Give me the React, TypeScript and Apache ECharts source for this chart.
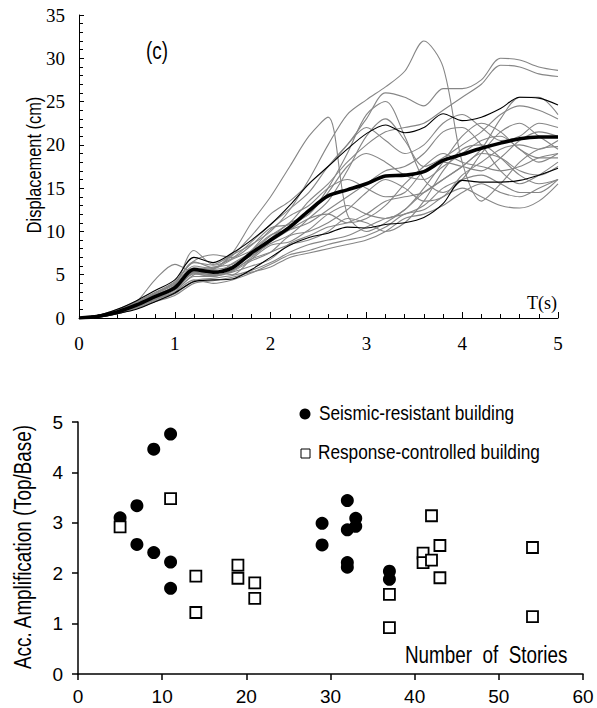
import React, { useEffect, useRef } from "react";
import * as echarts from "echarts";

// ---------- Panel (c): displacement time histories ----------
const T = [0, 0.2, 0.4, 0.6, 0.8, 1.0, 1.2, 1.4, 1.6, 1.8, 2.0, 2.2, 2.4, 2.6, 2.8, 3.0, 3.2, 3.4, 3.6, 3.8, 4.0, 4.2, 4.4, 4.6, 4.8, 5.0];

const g1 = [0, 0.2, 0.8, 1.6, 2.7, 3.8, 7.8, 6.2, 7.3, 8.5, 10.0, 12.5, 16.0, 20.0, 23.5, 25.2, 26.7, 28.5, 32.0, 29.0, 18.0, 13.5, 15.5, 18.0, 19.5, 19.8];
const g2 = [0, 0.2, 0.6, 1.4, 2.3, 3.2, 5.0, 5.6, 7.5, 11.0, 14.0, 17.5, 21.0, 23.2, 12.0, 10.0, 11.0, 12.5, 14.5, 16.0, 17.5, 19.0, 18.5, 17.0, 16.5, 17.5];
const g3 = [0, 0.3, 0.9, 1.8, 2.9, 4.0, 6.5, 5.8, 7.2, 9.5, 12.0, 13.5, 15.5, 17.5, 20.0, 23.0, 26.0, 25.5, 24.5, 26.5, 26.5, 27.5, 30.0, 29.8, 29.0, 28.6];
const g4 = [0, 0.2, 0.7, 1.5, 2.4, 3.4, 5.3, 5.9, 6.2, 7.6, 9.5, 11.0, 13.5, 15.5, 18.0, 20.0, 21.5, 22.0, 22.5, 24.0, 25.5, 27.0, 29.2, 29.0, 28.2, 27.9];
const g5 = [0, 0.2, 0.6, 1.3, 2.2, 3.3, 5.3, 5.0, 6.3, 7.6, 9.2, 11.0, 12.0, 15.0, 19.0, 23.5, 25.0, 21.0, 16.0, 14.5, 16.0, 19.0, 21.5, 22.5, 21.0, 19.5];
const g6 = [0, 0.2, 0.7, 1.6, 2.6, 3.5, 5.8, 5.6, 6.0, 7.2, 8.6, 9.6, 11.5, 13.5, 17.0, 21.0, 23.0, 20.5, 17.5, 18.5, 20.0, 21.5, 23.5, 24.5, 24.0, 23.0];
const g7 = [0, 0.2, 0.6, 1.3, 2.2, 3.0, 4.4, 4.0, 4.4, 5.2, 6.2, 7.3, 7.8, 8.5, 9.0, 9.5, 10.5, 12.0, 12.5, 14.0, 15.0, 14.0, 13.0, 12.7, 13.5, 15.5];
const g8 = [0, 0.3, 0.9, 1.9, 4.5, 6.2, 5.2, 4.8, 5.5, 6.8, 7.6, 8.5, 9.0, 10.0, 11.5, 11.0, 10.0, 11.0, 13.5, 17.0, 19.5, 20.0, 18.5, 16.5, 15.5, 16.0];
const g9 = [0, 0.2, 0.7, 1.5, 2.5, 3.6, 5.6, 5.4, 5.0, 6.8, 8.4, 8.8, 10.2, 12.0, 13.0, 12.0, 11.5, 12.5, 15.0, 18.0, 21.0, 22.5, 21.5, 19.5, 18.5, 18.5];
const g10 = [0, 0.2, 0.8, 1.7, 2.8, 3.9, 6.0, 5.7, 6.8, 7.8, 9.6, 10.2, 11.0, 12.5, 14.0, 15.5, 17.0, 17.5, 19.0, 21.5, 22.0, 20.0, 17.0, 15.5, 16.5, 18.0];
const g11 = [0, 0.2, 0.7, 1.5, 2.5, 3.5, 5.4, 5.2, 5.9, 7.8, 10.2, 11.8, 13.0, 15.0, 16.0, 15.0, 14.0, 14.5, 17.0, 18.0, 17.5, 17.0, 18.5, 20.5, 21.5, 21.0];
const g12 = [0, 0.1, 0.5, 1.2, 2.1, 3.0, 4.8, 4.8, 5.3, 6.0, 6.8, 8.6, 9.5, 10.5, 11.0, 12.0, 13.5, 14.0, 14.5, 16.0, 17.5, 19.5, 23.0, 25.5, 25.5, 23.5];
const g13 = [0, 0.1, 0.5, 1.1, 2.0, 2.8, 4.3, 4.6, 4.9, 5.5, 6.4, 7.6, 8.5, 9.0, 9.5, 10.5, 11.5, 12.0, 13.0, 15.0, 16.0, 16.5, 15.5, 14.5, 14.5, 16.0];
const g14 = [0, 0.3, 1.0, 1.9, 3.0, 4.2, 6.6, 7.3, 7.0, 8.4, 10.4, 10.8, 12.0, 14.5, 17.5, 19.0, 18.0, 16.5, 16.0, 17.5, 19.0, 20.5, 21.0, 19.5, 18.0, 19.0];
const g15 = [0, 0.2, 0.6, 1.4, 2.4, 3.3, 5.1, 4.9, 5.4, 6.6, 7.6, 9.5, 10.0, 11.0, 12.5, 14.5, 16.0, 15.0, 13.5, 14.0, 16.5, 18.0, 19.5, 20.0, 19.5, 20.5];
const g16 = [0, 0.1, 0.5, 1.1, 1.9, 2.6, 4.0, 4.3, 4.7, 5.3, 5.9, 7.0, 7.5, 8.0, 8.5, 9.0, 10.0, 11.5, 12.0, 13.0, 14.5, 15.5, 14.5, 14.0, 15.0, 16.0];
const g17 = [0, 0.3, 0.9, 1.8, 2.9, 4.1, 6.4, 6.1, 6.9, 8.8, 10.8, 12.6, 14.5, 17.5, 20.0, 22.0, 20.5, 19.0, 20.0, 22.5, 23.5, 22.0, 20.5, 21.0, 22.5, 22.0];
const g18 = [0, 0.2, 0.7, 1.4, 2.4, 3.4, 5.2, 5.0, 5.5, 7.0, 8.8, 10.2, 11.5, 12.0, 11.0, 11.5, 13.0, 15.5, 17.5, 19.0, 18.0, 17.5, 17.0, 17.5, 18.5, 19.0];
const grayRecords = [g1, g2, g3, g4, g5, g6, g7, g8, g9, g10, g11, g12, g13, g14, g15, g16, g17, g18];

const upperBound = [0, 0.3, 1.0, 2.0, 3.2, 4.4, 7.0, 6.4, 7.5, 9.0, 10.8, 13.0, 15.5, 17.5, 19.5, 21.3, 22.3, 21.4, 22.0, 23.6, 22.8, 23.2, 24.2, 25.5, 25.4, 24.6];
const lowerBound = [0, 0.1, 0.5, 1.0, 1.9, 2.9, 4.2, 4.4, 4.5, 5.6, 7.0, 8.4, 9.3, 9.8, 10.5, 10.4, 10.8, 11.0, 11.6, 13.2, 15.9, 15.7, 15.7, 15.9, 16.5, 17.3];
const meanLine = [0, 0.2, 0.7, 1.5, 2.5, 3.5, 5.6, 5.3, 5.8, 7.5, 9.0, 10.5, 12.4, 14.1, 14.8, 15.5, 16.4, 16.5, 16.9, 18.2, 18.9, 19.6, 20.2, 20.7, 20.9, 20.9];

// ---------- Lower panel: acceleration amplification ----------
const storiesResistant = [5, 7, 7, 9, 9, 11, 11, 11, 29, 29, 32, 32, 32, 32, 33, 33, 37, 37];
const ampResistant = [3.1, 3.34, 2.57, 4.46, 2.41, 4.76, 2.22, 1.7, 2.99, 2.56, 3.44, 2.86, 2.21, 2.12, 3.09, 2.93, 2.04, 1.88];
const storiesControlled = [5, 11, 14, 14, 19, 19, 21, 21, 37, 37, 41, 41, 42, 42, 43, 43, 54, 54];
const ampControlled = [2.92, 3.48, 1.94, 1.22, 2.16, 1.9, 1.81, 1.5, 1.58, 0.92, 2.4, 2.21, 3.14, 2.26, 2.55, 1.91, 2.51, 1.14];

const pair = (xs: number[], ys: number[]) => xs.map((x, i) => [x, ys[i]]);

const SANS = "Liberation Sans";
const SERIF = "Liberation Serif";

function narrowText(text: string, x: number, y: number, size: number, align: string, rotation = 0) {
  return {
    type: "text",
    x,
    y,
    rotation,
    scaleX: 0.82,
    silent: true,
    style: {
      text,
      fontFamily: SANS,
      fontSize: size,
      fill: "#000",
      textAlign: align,
      textVerticalAlign: "middle",
    },
  };
}

export default function App() {
  const ref = useRef<HTMLDivElement>(null);

  useEffect(() => {
    if (!ref.current) return;
    const chart = echarts.init(ref.current, undefined, { renderer: "svg" });

    const series: any[] = [];
    grayRecords.forEach((rec) => {
      series.push({
        type: "line",
        xAxisIndex: 0,
        yAxisIndex: 0,
        data: pair(T, rec),
        showSymbol: false,
        smooth: 0.3,
        silent: true,
        lineStyle: { color: "#868686", width: 1.1 },
      });
    });
    [upperBound, lowerBound].forEach((rec) => {
      series.push({
        type: "line",
        xAxisIndex: 0,
        yAxisIndex: 0,
        data: pair(T, rec),
        showSymbol: false,
        smooth: 0.3,
        silent: true,
        lineStyle: { color: "#000", width: 1.1 },
      });
    });
    series.push({
      type: "line",
      xAxisIndex: 0,
      yAxisIndex: 0,
      data: pair(T, meanLine),
      showSymbol: false,
      smooth: 0.3,
      silent: true,
      lineStyle: { color: "#000", width: 3.6 },
    });
    series.push({
      type: "scatter",
      name: "Seismic-resistant building",
      xAxisIndex: 1,
      yAxisIndex: 1,
      data: pair(storiesResistant, ampResistant),
      symbol: "circle",
      symbolSize: 13,
      itemStyle: { color: "#000", opacity: 1 },
    });
    series.push({
      type: "scatter",
      name: "Response-controlled building",
      xAxisIndex: 1,
      yAxisIndex: 1,
      data: pair(storiesControlled, ampControlled),
      symbol: "rect",
      symbolSize: 11,
      itemStyle: { color: "#fff", borderColor: "#000", borderWidth: 1.8, opacity: 1 },
    });

    const option: any = {
      animation: false,
      grid: [
        { left: 79, right: 39, top: 15, height: 303, outerBoundsMode: "none" },
        { left: 78, right: 14, top: 422, height: 252, outerBoundsMode: "none" },
      ],
      xAxis: [
        {
          gridIndex: 0,
          type: "value",
          min: 0,
          max: 5,
          interval: 1,
          axisLine: { lineStyle: { color: "#000", width: 1 } },
          axisTick: { show: true, inside: true, length: 6, lineStyle: { color: "#000", width: 1 } },
          minorTick: { show: true, splitNumber: 5, length: 4, lineStyle: { color: "#000", width: 1 } },
          splitLine: { show: false },
          axisLabel: { fontFamily: SERIF, fontSize: 19, color: "#000", margin: 16 },
        },
        {
          gridIndex: 1,
          type: "value",
          min: 0,
          max: 60,
          interval: 10,
          axisLine: { lineStyle: { color: "#000", width: 1.5 } },
          axisTick: { show: true, inside: false, length: 6, lineStyle: { color: "#000", width: 1.5 } },
          splitLine: { show: false },
          axisLabel: { fontFamily: SANS, fontSize: 19, color: "#000", margin: 13 },
        },
      ],
      yAxis: [
        {
          gridIndex: 0,
          type: "value",
          min: 0,
          max: 35,
          interval: 5,
          axisLine: { show: true, lineStyle: { color: "#000", width: 1 } },
          axisTick: { show: true, inside: true, length: 5, lineStyle: { color: "#000", width: 1 } },
          minorTick: { show: true, splitNumber: 5, length: 4, lineStyle: { color: "#000", width: 1 } },
          splitLine: { show: false },
          axisLabel: { fontFamily: SERIF, fontSize: 19, color: "#000", margin: 14 },
        },
        {
          gridIndex: 1,
          type: "value",
          min: 0,
          max: 5,
          interval: 1,
          axisLine: { show: true, lineStyle: { color: "#000", width: 1.5 } },
          axisTick: { show: true, inside: false, length: 6, lineStyle: { color: "#000", width: 1.5 } },
          splitLine: { show: false },
          axisLabel: { fontFamily: SANS, fontSize: 19, color: "#000", margin: 15 },
        },
      ],
      series,
      graphic: [
        narrowText("Displacement (cm)", 34, 165, 20, "center", Math.PI / 2),
        narrowText("(c)", 157, 51, 23, "center"),
        {
          type: "text",
          x: 557,
          y: 303,
          silent: true,
          style: { text: "T(s)", fontFamily: SERIF, fontSize: 18, fill: "#000", textAlign: "right", textVerticalAlign: "middle" },
        },
        narrowText("Acc. Amplification (Top/Base)", 23, 547, 23, "center", Math.PI / 2),
        narrowText("Number  of  Stories", 405, 655, 23, "left"),
        { type: "circle", silent: true, shape: { cx: 305, cy: 414, r: 5.5 }, style: { fill: "#000" } },
        narrowText("Seismic-resistant building", 319, 413, 21, "left"),
        { type: "rect", silent: true, shape: { x: 301, y: 449, width: 9, height: 9 }, style: { fill: "#fff", stroke: "#000", lineWidth: 1 } },
        narrowText("Response-controlled building", 318, 452, 21, "left"),
      ],
    };

    chart.setOption(option);
    return () => chart.dispose();
  }, []);

  return <div ref={ref} style={{ position: "fixed", left: 0, top: 0, width: 597, height: 708, background: "#fff" }} />;
}
